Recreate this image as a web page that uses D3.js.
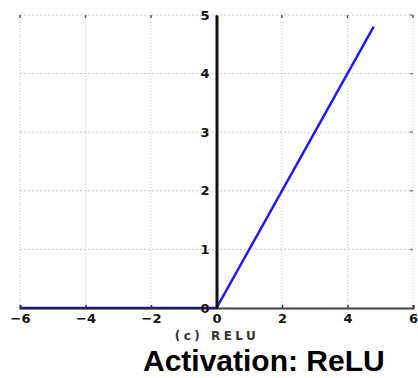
<!DOCTYPE html>
<html>
<head>
<meta charset="utf-8">
<script src="https://cdn.jsdelivr.net/npm/d3@7"></script>
<style>
  body { margin: 0; background: #fff; }
  svg { display: block; }
</style>
</head>
<body>
<svg width="418" height="378"></svg>
<script>
// ReLU curve
var xs = [-6, 0, 4.8];
var ys = [0, 0, 4.8];
var xTicks = [-6, -4, -2, 0, 2, 4, 6];
var yTicks = [0, 1, 2, 3, 4, 5];
var subLabel = "(c) RELU";
var title = "Activation: ReLU";

var svg = d3.select("svg");

var x = d3.scaleLinear().domain([-6, 6]).range([20, 413]),
  y = d3.scaleLinear().domain([0, 5]).range([308, 15]);

var g = svg.append("g");

// dotted grid
g.selectAll(".gx")
  .data(xTicks.filter(function(d) { return d !== 0; }))
  .enter().append("line")
  .attr("x1", function(d) { return x(d); })
  .attr("x2", function(d) { return x(d); })
  .attr("y1", y(0))
  .attr("y2", y(5))
  .attr("stroke", "#c8c8c8")
  .attr("stroke-width", 1)
  .attr("stroke-dasharray", "1,2");

g.selectAll(".gy")
  .data(yTicks.filter(function(d) { return d !== 0; }))
  .enter().append("line")
  .attr("x1", x(-6))
  .attr("x2", x(6))
  .attr("y1", function(d) { return y(d); })
  .attr("y2", function(d) { return y(d); })
  .attr("stroke", "#c8c8c8")
  .attr("stroke-width", 1)
  .attr("stroke-dasharray", "2,2");

// little inward ticks on top and right
g.selectAll(".tt")
  .data(xTicks)
  .enter().append("line")
  .attr("x1", function(d) { return x(d); })
  .attr("x2", function(d) { return x(d); })
  .attr("y1", y(5))
  .attr("y2", y(5) + 3)
  .attr("stroke", "#555")
  .attr("stroke-width", 1.5);

g.selectAll(".tr")
  .data(yTicks.filter(function(d) { return d !== 0; }))
  .enter().append("line")
  .attr("x1", x(6) - 3)
  .attr("x2", x(6))
  .attr("y1", function(d) { return y(d); })
  .attr("y2", function(d) { return y(d); })
  .attr("stroke", "#888")
  .attr("stroke-width", 1.5);

// data line
var pts = xs.map(function(d, i) { return [d, ys[i]]; });
var line = d3.line()
  .x(function(d) { return x(d[0]); })
  .y(function(d) { return y(d[1]); });

g.append("path")
  .datum(pts)
  .attr("d", line)
  .attr("fill", "none")
  .attr("stroke", "#1a1aff")
  .attr("stroke-width", 2.5);

// spines through zero
var xAxis = d3.axisBottom(x).tickValues(xTicks).tickSize(-3).tickPadding(6)
  .tickFormat(function(d) { return d < 0 ? "\u2212" + (-d) : d; });
var gx = g.append("g")
  .attr("transform", "translate(0," + y(0) + ")")
  .call(xAxis);
gx.select(".domain").attr("stroke", "#222").attr("stroke-width", 2).attr("stroke-opacity", 0.85);
gx.selectAll(".tick line").attr("stroke", "#333").attr("stroke-width", 1.5);

var yAxis = d3.axisLeft(y).tickValues(yTicks).tickSize(0).tickPadding(7)
  .tickFormat(d3.format("d"));
var gy = g.append("g")
  .attr("transform", "translate(" + x(0) + ",0)")
  .call(yAxis);
gy.select(".domain").attr("stroke", "#111").attr("stroke-width", 3);

svg.selectAll(".tick text")
  .attr("font-family", "DejaVu Sans")
  .attr("font-weight", "bold")
  .attr("font-size", 13)
  .attr("fill", "#111");

svg.append("text")
  .attr("x", 217)
  .attr("y", 340)
  .attr("text-anchor", "middle")
  .attr("font-family", "DejaVu Sans")
  .attr("font-weight", "bold")
  .attr("font-size", 12)
  .attr("letter-spacing", 3.5)
  .attr("fill", "#333")
  .text(subLabel);

svg.append("text")
  .attr("x", 143)
  .attr("y", 371)
  .attr("font-family", "Liberation Sans")
  .attr("font-weight", "bold")
  .attr("font-size", 30)
  .attr("fill", "#000")
  .text(title);
</script>
</body>
</html>
